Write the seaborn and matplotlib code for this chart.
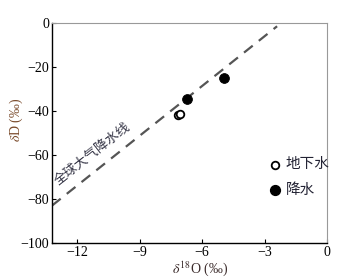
import matplotlib
matplotlib.use("Agg")
import matplotlib.pyplot as plt
import seaborn as sns
import pandas as pd

sns.set_theme(style="ticks")
plt.rcParams['font.family'] = ['Liberation Serif', 'Noto Sans CJK SC']
plt.rcParams['mathtext.fontset'] = 'stix'

# data
gw_o18 = [-7.15, -7.05]
gw_d = [-42.0, -41.5]
rain_o18 = [-6.72, -4.95]
rain_d = [-34.7, -25.0]
gmwl_o18 = [-13.2, -2.4]
gmwl_d = [-83.0, -1.5]
xticks = [-12, -9, -6, -3, 0]
yticks = [0, -20, -40, -60, -80, -100]

df = pd.DataFrame({
    "o18": gw_o18 + rain_o18,
    "d": gw_d + rain_d,
    "kind": ["地下水"] * len(gw_o18) + ["降水"] * len(rain_o18),
})
line_df = pd.DataFrame({"o18": gmwl_o18, "d": gmwl_d})

fig = plt.figure(figsize=(3.62, 2.80), dpi=100)
ax = fig.add_axes([0.1436, 0.132, 0.760, 0.786])

sns.lineplot(data=line_df, x="o18", y="d", ax=ax, color="#555555",
             linestyle=(0, (5, 3.5)), linewidth=1.6)

gw = df[df.kind == "地下水"]
rn = df[df.kind == "降水"]
sns.scatterplot(data=gw, x="o18", y="d", ax=ax, marker="o", s=30,
                facecolor="white", edgecolor="black", linewidth=1.3, zorder=3)
sns.scatterplot(data=rn, x="o18", y="d", ax=ax, marker="o", s=50,
                color="black", edgecolor="black", zorder=3)

ax.set_xlim(-13.2, 0)
ax.set_ylim(-100, 0)
ax.set_xticks(xticks)
ax.set_yticks(yticks)
ax.set_xticklabels(["\u221212", "\u22129", "\u22126", "\u22123", "0"])
ax.set_yticklabels(["0", "\u221220", "\u221240", "\u221260", "\u221280", "\u2212100"])
ax.tick_params(direction="in", length=3, labelsize=10, colors="black",
               width=0.8, pad=2)
for s in ["left", "bottom"]:
    ax.spines[s].set_color("black")
    ax.spines[s].set_linewidth(1.0)
for s in ["top", "right"]:
    ax.spines[s].set_color("#999999")
    ax.spines[s].set_linewidth(0.8)

ax.set_xlabel(r"$\delta^{18}$O (‰)", fontsize=10, color="#3a2a2a", labelpad=-2)
ax.xaxis.set_label_coords(0.54, -0.075, transform=ax.transAxes)
ax.xaxis.label.set_va("top")
ax.set_ylabel(r"$\delta$D (‰)", fontsize=10, color="#7a4a2a", labelpad=-3)
ax.yaxis.label.set_y(0.56)

ax.text(-11.25, -59.5, "全球大气降水线", rotation=38, fontsize=9.5,
        color="#333344", ha="center", va="center", rotation_mode="anchor")

# legend
ax.scatter([-2.5], [-64.5], s=30, facecolor="white", edgecolor="black",
           linewidth=1.3, zorder=3)
ax.scatter([-2.5], [-76], s=50, color="black", zorder=3)
ax.text(-2.0, -64.5, "地下水", fontsize=10.5, color="#222233", va="center", ha="left")
ax.text(-2.0, -76, "降水", fontsize=10.5, color="#222233", va="center", ha="left")

if ax.get_legend() is not None:
    ax.get_legend().remove()

fig.savefig("out.png", dpi=100)
